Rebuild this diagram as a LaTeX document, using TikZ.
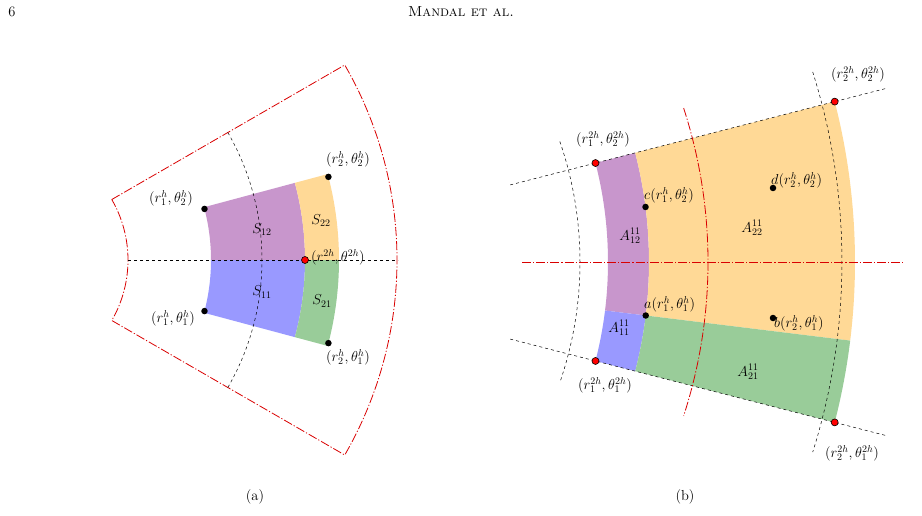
\documentclass[tikz,border=0pt]{standalone}
\usepackage{amsmath}
\begin{document}
\begin{tikzpicture}[x=1pt,y=-1pt,
  reddash/.style={red!85!black,line width=0.8pt,dash pattern=on 9pt off 2pt on 1.2pt off 2pt},
  blk/.style={black,dashed,line width=0.5pt},
  bdot/.style={circle,fill=black,inner sep=0pt,minimum size=6.5pt},
  rdot/.style={circle,fill=red,draw=black,line width=0.6pt,inner sep=0pt,minimum size=7pt},
  lab/.style={font=\fontsize{14.5}{17}\selectfont,inner sep=1pt}]
\definecolor{cpur}{RGB}{200,150,204}
\definecolor{cora}{RGB}{255,217,150}
\definecolor{cblu}{RGB}{153,153,255}
\definecolor{cgre}{RGB}{153,204,153}
\useasboundingbox (0,0) rectangle (922,516);
\node[lab] (pg) at (12,12) {6};
\node[lab] (hd) at (461,12) {\textsc{Mandal et al.}};
\node[lab] (ca) at (255,497) {(a)};
\node[lab] (cb) at (685,497) {(b)};
% ---------- (a)
\begin{scope}[shift={(7,260)}]
\fill[cpur] (0:204) -- (0:298) arc[start angle=0,end angle=-15,radius=298] -- (-15:204) arc[start angle=-15,end angle=0,radius=204] -- cycle;
\fill[cora] (0:298) -- (0:332) arc[start angle=0,end angle=-15,radius=332] -- (-15:298) arc[start angle=-15,end angle=0,radius=298] -- cycle;
\fill[cblu] (0:204) -- (0:298) arc[start angle=0,end angle=15,radius=298] -- (15:204) arc[start angle=15,end angle=0,radius=204] -- cycle;
\fill[cgre] (0:298) -- (0:332) arc[start angle=0,end angle=15,radius=332] -- (15:298) arc[start angle=15,end angle=0,radius=298] -- cycle;
\draw[reddash] (-30:121) -- (-30:390) arc[start angle=-30,end angle=30,radius=390] -- (30:121) arc[start angle=30,end angle=-30,radius=121];
\draw[blk] (-30:255) arc[start angle=-30,end angle=30,radius=255];
\draw[blk] (0:121) -- (0:391);
\node[bdot] (a12) at (-14.5:204) {};
\node[bdot] (a22) at (-14.5:332) {};
\node[bdot] (a11) at (14.5:204) {};
\node[bdot] (a21) at (14.5:332) {};
\node[rdot] (ac) at (0:298) {};
\end{scope}
\node[lab] (s12) at (262,230) {$S_{12}$};
\node[lab] (s22) at (321,221) {$S_{22}$};
\node[lab] (s11) at (262,292) {$S_{11}$};
\node[lab] (s21) at (322,301) {$S_{21}$};
\node[lab] (l12) at (171,198) {$(r_1^h,\theta_2^h)$};
\node[lab] (l22) at (348,159) {$(r_2^h,\theta_2^h)$};
\node[lab,anchor=west] (lc) at (310,257) {$(r^{2h},\theta^{2h})$};
\node[lab] (l11) at (173,318) {$(r_1^h,\theta_1^h)$};
\node[lab] (l21) at (348,357) {$(r_2^h,\theta_1^h)$};
% ---------- (b)
\begin{scope}[shift={(210,262)}]
\fill[cpur] (-14.4:398) arc[start angle=-14.4,end angle=7,radius=398] -- (7:439) arc[start angle=7,end angle=-14.4,radius=439] -- cycle;
\fill[cblu] (7:398) arc[start angle=7,end angle=14.4,radius=398] -- (14.4:439) arc[start angle=14.4,end angle=7,radius=439] -- cycle;
\fill[cora] (-14.4:439) arc[start angle=-14.4,end angle=7,radius=439] -- (7:645) arc[start angle=7,end angle=-14.4,radius=645] -- cycle;
\fill[cgre] (7:439) arc[start angle=7,end angle=14.4,radius=439] -- (14.4:645) arc[start angle=14.4,end angle=7,radius=645] -- cycle;
\draw[blk] (-14.4:310) -- (-14.4:700);
\draw[blk] (14.4:310) -- (14.4:700);
\draw[blk] (-19:370) arc[start angle=-19,end angle=19,radius=370];
\draw[blk] (-17.5:632) arc[start angle=-17.5,end angle=17.5,radius=632];
\draw[reddash] (0:312) -- (0:695);
\draw[reddash] (-18:498) arc[start angle=-18,end angle=18,radius=498];
\node[rdot] (r12) at (-14.4:398) {};
\node[rdot] (r22) at (-14.4:645) {};
\node[rdot] (r11) at (14.4:398) {};
\node[rdot] (r21) at (14.4:645) {};
\node[bdot] (pc) at (-7.2:439) {};
\node[bdot] (pa) at (7:439) {};
\end{scope}
\node[bdot] (pd) at (773,188) {};
\node[bdot] (pb) at (773,318) {};
\node[lab] (A12) at (630,236) {$A_{12}^{11}$};
\node[lab] (A22) at (752,228) {$A_{22}^{11}$};
\node[lab] (A11) at (619,328) {$A_{11}^{11}$};
\node[lab] (A21) at (748,372) {$A_{21}^{11}$};
\node[lab,anchor=west] (lcc) at (643,195) {$c(r_1^h,\theta_2^h)$};
\node[lab,anchor=west] (laa) at (643,304) {$a(r_1^h,\theta_1^h)$};
\node[lab,anchor=west] (ldd) at (770,180) {$d(r_2^h,\theta_2^h)$};
\node[lab,anchor=west] (lbb) at (773,323) {$b(r_2^h,\theta_1^h)$};
\node[lab] (lr12) at (603,139) {$(r_1^{2h},\theta_2^{2h})$};
\node[lab] (lr22) at (858,74) {$(r_2^{2h},\theta_2^{2h})$};
\node[lab] (lr11) at (605,385) {$(r_1^{2h},\theta_1^{2h})$};
\node[lab] (lr21) at (852,453) {$(r_2^{2h},\theta_1^{2h})$};
\end{tikzpicture}
\end{document}
